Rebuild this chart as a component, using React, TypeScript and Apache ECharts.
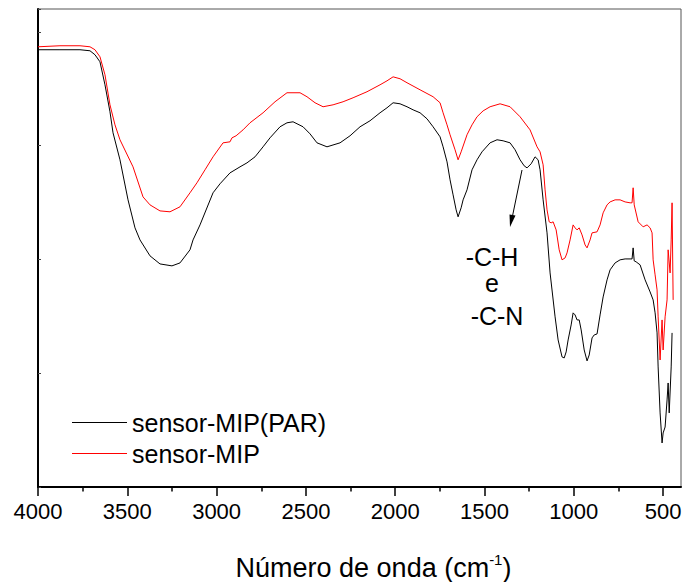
import React, { useEffect, useRef } from 'react';
import * as echarts from 'echarts';

const FONT = "'Liberation Sans', Arial, Helvetica, sans-serif";

const seriesNames = ['sensor-MIP(PAR)', 'sensor-MIP'];
const xTickValues = [4000, 3500, 3000, 2500, 2000, 1500, 1000, 500];
const xMinorTickValues = [3750, 3250, 2750, 2250, 1750, 1250, 750];
const annotationLines = ['-C-H', 'e', '-C-N'];

// sensor-MIP(PAR) (black)
const parWavenumber = [
  4000, 3877, 3765, 3709, 3681, 3653, 3625, 3597, 3580, 3541, 3496, 3457, 3429, 3373, 3317, 3250,
  3205, 3149, 3132, 3093, 3020, 2981, 2925, 2869, 2830, 2785, 2740, 2701, 2645, 2606, 2572, 2516,
  2477, 2438, 2382, 2309, 2253, 2197, 2141, 2085, 2046, 2012, 1973, 1934, 1900, 1861, 1822, 1788,
  1749, 1732, 1710, 1693, 1676, 1659, 1648, 1631, 1620, 1598, 1570, 1542, 1514, 1469, 1430, 1396,
  1357, 1329, 1301, 1278, 1262, 1239, 1217, 1200, 1189, 1172, 1150, 1133, 1105, 1088, 1066, 1054,
  1043, 1032, 1015, 1004, 993, 982, 970, 959, 942, 926, 914, 898, 886, 870, 853, 836, 814, 797,
  769, 741, 713, 685, 674, 668, 662, 651, 629, 601, 573, 556, 545, 534, 528, 517, 506, 500, 489,
  478, 472, 466, 455, 450
];
const parSignal = [
  3.842, 3.842, 3.842, 3.833, 3.798, 3.736, 3.534, 3.297, 3.112, 2.875, 2.523, 2.277, 2.171, 2.031, 1.960, 1.943,
  1.969, 2.084, 2.171, 2.303, 2.585, 2.664, 2.760, 2.813, 2.848, 2.901, 2.989, 3.068, 3.165, 3.200, 3.209, 3.165,
  3.103, 3.024, 2.989, 3.024, 3.086, 3.165, 3.218, 3.288, 3.332, 3.376, 3.367, 3.341, 3.314, 3.288, 3.235, 3.165,
  3.077, 2.989, 2.857, 2.699, 2.567, 2.435, 2.374, 2.453, 2.523, 2.611, 2.787, 2.875, 2.945, 3.024, 3.051, 3.042,
  3.024, 2.963, 2.875, 2.822, 2.804, 2.840, 2.901, 2.875, 2.787, 2.523, 2.233, 1.881, 1.495, 1.292, 1.143, 1.134,
  1.187, 1.292, 1.424, 1.530, 1.512, 1.468, 1.468, 1.380, 1.204, 1.108, 1.160, 1.310, 1.336, 1.345, 1.512, 1.670, 1.820, 1.908,
  1.969, 1.996, 2.004, 2.004, 2.004, 2.101, 1.987, 1.978, 1.952, 1.820, 1.714, 1.644, 1.530, 1.354, 1.055, 0.651, 0.387, 0.475, 0.527,
  0.765, 0.914, 0.651, 1.055, 1.354
];

// sensor-MIP (red)
const mipWavenumber = [
  4000, 3877, 3765, 3709, 3681, 3653, 3625, 3597, 3569, 3541, 3468, 3412, 3373, 3317, 3261, 3205,
  3149, 3110, 3065, 3020, 2964, 2925, 2914, 2891, 2852, 2813, 2740, 2673, 2606, 2533, 2494, 2449,
  2404, 2348, 2292, 2236, 2158, 2085, 2046, 2012, 1973, 1934, 1861, 1788, 1749, 1732, 1710, 1693,
  1665, 1648, 1631, 1598, 1570, 1542, 1508, 1469, 1413, 1357, 1301, 1245, 1206, 1189, 1172, 1161,
  1150, 1138, 1127, 1116, 1099, 1082, 1066, 1049, 1038, 1021, 1004, 993, 982, 970, 954, 937, 926,
  909, 898, 870, 853, 836, 814, 797, 769, 741, 713, 685, 674, 668, 662, 640, 612, 590, 573, 562,
  556, 545, 534, 528, 517, 506, 500, 489, 478, 472, 461, 455, 450, 444
];
const mipSignal = [
  3.868, 3.877, 3.877, 3.868, 3.842, 3.780, 3.622, 3.358, 3.182, 3.051, 2.813, 2.549, 2.479, 2.426, 2.418, 2.462,
  2.585, 2.673, 2.787, 2.901, 3.024, 3.033, 3.068, 3.086, 3.138, 3.200, 3.288, 3.385, 3.464, 3.464, 3.429, 3.376,
  3.341, 3.358, 3.385, 3.420, 3.473, 3.534, 3.569, 3.604, 3.587, 3.552, 3.490, 3.429, 3.376, 3.288, 3.182, 3.095,
  2.963, 2.875, 2.945, 3.095, 3.182, 3.253, 3.305, 3.341, 3.367, 3.341, 3.253, 3.138, 2.989, 2.945, 2.831, 2.611,
  2.435, 2.330, 2.321, 2.330, 2.259, 2.084, 1.996, 2.013, 2.057, 2.171, 2.303, 2.277, 2.259, 2.277, 2.215, 2.127, 2.101,
  2.171, 2.233, 2.242, 2.303, 2.409, 2.479, 2.505, 2.523, 2.523, 2.505, 2.497, 2.497, 2.629, 2.479, 2.330, 2.286, 2.303, 2.277, 2.233,
  1.996, 1.864, 1.732, 1.495, 1.116, 1.468, 1.204, 1.495, 1.644, 2.084, 1.881, 2.171, 2.497, 1.644
];

const seriesColors = ['#000000', '#ff0000'];

export default function App() {
  const ref = useRef<HTMLDivElement>(null);

  useEffect(() => {
    document.body.style.margin = '0';
    if (!ref.current) return;
    const chart = echarts.init(ref.current, undefined, { renderer: 'svg' });

    const pairs = (xs: number[], ys: number[]) => xs.map((x, i) => [x, ys[i]]);

    const textEl = (text: string, x: number, y: number) => ({
      type: 'text',
      x,
      y,
      silent: true,
      style: {
        text,
        fontSize: 25,
        fontFamily: FONT,
        fill: '#000',
        align: 'center',
        verticalAlign: 'middle',
        textAlign: 'center',
        textVerticalAlign: 'middle',
      },
    });

    const option: any = {
      animation: false,
      backgroundColor: '#ffffff',
      textStyle: { fontFamily: FONT },
      grid: {
        left: 38,
        right: 2,
        top: 9,
        bottom: 95,
        containLabel: false,
        outerBoundsMode: 'none',
        show: true,
        borderColor: '#555',
        borderWidth: 1,
        backgroundColor: 'transparent',
      },
      legend: {
        orient: 'vertical',
        left: 72,
        top: 410,
        padding: 0,
        itemGap: 6,
        itemWidth: 55,
        itemHeight: 1.2,
        icon: 'rect',
        selectedMode: false,
        data: seriesNames,
        textStyle: { fontSize: 25, color: '#000', fontFamily: FONT, lineHeight: 25 },
      },
      xAxis: [
        {
          type: 'value',
          min: 400,
          max: 4000,
          inverse: true,
          position: 'bottom',
          axisLine: { show: true, onZero: false, lineStyle: { color: '#000', width: 2 } },
          axisTick: {
            show: true,
            inside: false,
            length: 9,
            customValues: xTickValues,
            lineStyle: { color: '#000', width: 1.5 },
          },
          axisLabel: {
            show: true,
            customValues: xTickValues,
            formatter: (v: number) => String(v),
            fontSize: 22,
            color: '#000',
            margin: 13,
            fontFamily: FONT,
          },
          splitLine: { show: false },
          name: '{a|Número de onda (cm}{s|-1}{a|)}',
          nameLocation: 'middle',
          nameGap: 65,
          nameTextStyle: {
            fontSize: 27,
            color: '#000',
            fontFamily: FONT,
            padding: [0, 0, 0, 28],
            rich: {
              a: { fontSize: 27, color: '#000', fontFamily: FONT, lineHeight: 31 },
              s: { fontSize: 15, color: '#000', fontFamily: FONT, verticalAlign: 'top', lineHeight: 16 },
            },
          },
        },
        {
          type: 'value',
          min: 400,
          max: 4000,
          inverse: true,
          position: 'bottom',
          axisLine: { show: false, onZero: false },
          axisTick: {
            show: true,
            inside: false,
            length: 4.5,
            customValues: xMinorTickValues,
            lineStyle: { color: '#000', width: 1.5 },
          },
          axisLabel: { show: false },
          splitLine: { show: false },
        },
      ],
      yAxis: {
        type: 'value',
        min: 0,
        max: 4.2,
        interval: 1,
        axisLine: { show: true, onZero: false, lineStyle: { color: '#000', width: 2 } },
        axisTick: { show: true, inside: true, length: 3, lineStyle: { color: '#444', width: 1 } },
        axisLabel: { show: false },
        splitLine: { show: false },
      },
      series: [
        {
          name: seriesNames[0],
          type: 'line',
          data: pairs(parWavenumber, parSignal),
          showSymbol: false,
          symbol: 'none',
          lineStyle: { color: seriesColors[0], width: 1 },
          itemStyle: { color: seriesColors[0] },
        },
        {
          name: seriesNames[1],
          type: 'line',
          data: pairs(mipWavenumber, mipSignal),
          showSymbol: false,
          symbol: 'none',
          lineStyle: { color: seriesColors[1], width: 1 },
          itemStyle: { color: seriesColors[1] },
        },
      ],
      graphic: [
        textEl(annotationLines[0], 492, 257),
        textEl(annotationLines[1], 492, 283),
        textEl(annotationLines[2], 497, 316),
        {
          type: 'line',
          silent: true,
          shape: { x1: 522, y1: 170, x2: 512.5, y2: 216 },
          style: { stroke: '#000', lineWidth: 1 },
        },
        {
          type: 'polygon',
          silent: true,
          shape: { points: [[510, 227], [515.5, 215.5], [509.5, 214.5]] },
          style: { fill: '#000' },
        },
      ],
    };

    chart.setOption(option);
    return () => chart.dispose();
  }, []);

  return (
    <div
      ref={ref}
      style={{ position: 'absolute', left: 0, top: 0, width: 683, height: 582 }}
    />
  );
}
